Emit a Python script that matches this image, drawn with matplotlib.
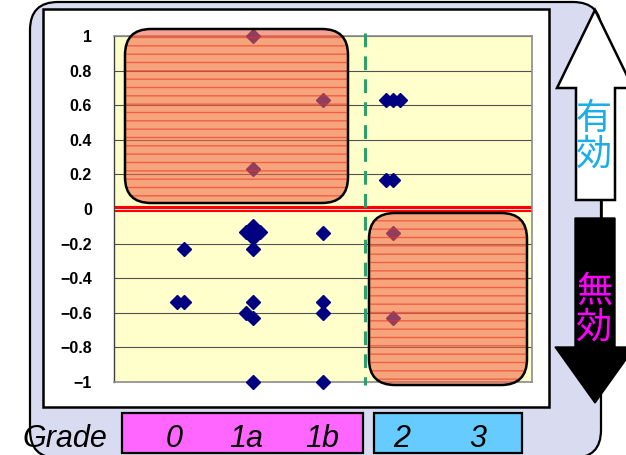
import numpy as np
import matplotlib
matplotlib.use("Agg")
import matplotlib.pyplot as plt
from matplotlib.patches import FancyBboxPatch, Rectangle, Polygon

# grade groups shown under the chart
grade_names = ['0', '1a', '1b', '2', '3']
grade_pos = [1, 2, 3, 4, 5]

# each case: x = grade position (small offsets where cases overlap), y = response score
case_x = [1.0, 0.9, 1.0,
          2.0, 2.0, 1.9, 2.1, 2.0, 2.0, 2.0, 2.0, 2.0, 1.9, 2.0, 2.0,
          3.0, 3.0, 3.0, 3.0, 3.0,
          3.9, 4.0, 4.1, 3.9, 4.0, 4.0, 4.0]
case_y = [-0.23, -0.54, -0.54,
          1.0, 0.23, -0.135, -0.135, -0.10, -0.165, -0.135, -0.23, -0.54, -0.60, -0.63, -1.0,
          0.63, -0.14, -0.54, -0.60, -1.0,
          0.63, 0.63, 0.63, 0.17, 0.17, -0.14, -0.63]

y_ticks = [1, 0.8, 0.6, 0.4, 0.2, 0, -0.2, -0.4, -0.6, -0.8, -1]
cutoff_x = 3.6

W, H = 626, 455
fig = plt.figure(figsize=(W / 100, H / 100), dpi=100)
fig.patch.set_facecolor('white')

# background layer in pixel units: lavender frame, white chart area, grade boxes
back = fig.add_axes([0, 0, 1, 1], zorder=0)
back.set_xlim(0, W)
back.set_ylim(H, 0)
back.axis('off')

back.add_patch(FancyBboxPatch((30, 2), 571, 456, boxstyle='round,pad=0,rounding_size=28',
                              facecolor='#D9DBF1', edgecolor='black', linewidth=1.6))
back.add_patch(Rectangle((43, 9), 506, 398, facecolor='white', edgecolor='black', linewidth=1.8))
back.add_patch(Rectangle((122, 413), 241, 40, facecolor='#FF66FF', edgecolor='black', linewidth=1.6))
back.add_patch(Rectangle((374, 413), 148, 40, facecolor='#66CCFF', edgecolor='black', linewidth=1.6))

back.text(22, 447, 'Grade', fontsize=22, style='italic', family='Liberation Sans',
          ha='left', va='baseline', color='black')
label_px = [174, 246, 322, 402, 478]
for name, px in zip(grade_names, label_px):
    back.text(px, 447, name, fontsize=22, style='italic', family='Liberation Sans',
              ha='center', va='baseline', color='black')

# scatter plot
ax = fig.add_axes([114 / W, (H - 382) / H, 418 / W, 346 / H], zorder=1)
ax.set_facecolor('#FFFFCC')
ax.set_xlim(0, 6)
ax.set_ylim(-1, 1)
for yv in y_ticks:
    if yv != 0:
        ax.axhline(yv, color='#505050', linewidth=0.8, zorder=1)
ax.axhline(0, color='red', linewidth=4.4, zorder=2)
ax.axhline(0, color='white', linewidth=0.6, zorder=2)
ax.plot([cutoff_x, cutoff_x], [1.02, -1.02], color='#2E9E6A', linewidth=2.2,
        dashes=(4.5, 3), clip_on=False, zorder=3)
ax.plot(case_x, case_y, linestyle='none', marker='D', markersize=7.6,
        color='#000080', clip_on=False, zorder=4)

ax.set_xticks([])
ax.set_yticks(y_ticks)
ax.set_yticklabels([f'{v:g}'.replace('-', '\u2212') for v in y_ticks],
                   fontsize=11.5, fontweight='bold', family='Liberation Sans')
ax.tick_params(axis='y', length=0, pad=16)
for side in ['top', 'right', 'bottom']:
    ax.spines[side].set_color('#8C8C8C')
    ax.spines[side].set_linewidth(1.2)
ax.spines['left'].set_color('#404040')
ax.spines['left'].set_linewidth(1.0)

# front layer: shaded regions and the effective / ineffective arrows
front = fig.add_axes([0, 0, 1, 1], zorder=2)
front.set_xlim(0, W)
front.set_ylim(H, 0)
front.axis('off')
front.patch.set_alpha(0)

for (x0, y0, w, h) in [(125, 29, 223, 174), (369, 213, 158, 172)]:
    front.add_patch(FancyBboxPatch((x0, y0), w, h, boxstyle='round,pad=0,rounding_size=26',
                                   facecolor='#F06848', edgecolor='#F03020', hatch='--',
                                   linewidth=0, alpha=0.6))
    front.add_patch(FancyBboxPatch((x0, y0), w, h, boxstyle='round,pad=0,rounding_size=26',
                                   facecolor='none', edgecolor='black', linewidth=1.8))

up_arrow = [(595, 10), (633, 88), (615, 88), (615, 200), (576, 200), (576, 88), (557, 88)]
front.add_patch(Polygon(up_arrow, closed=True, facecolor='white', edgecolor='black',
                        linewidth=1.8, clip_on=False))
front.plot([602, 602], [200, 218], color='black', linewidth=1.2)
down_arrow = [(575, 218), (615, 218), (615, 347), (635, 347), (595, 403), (555, 347), (575, 347)]
front.add_patch(Polygon(down_arrow, closed=True, facecolor='black', edgecolor='black',
                        linewidth=1.0, clip_on=False))

front.text(594, 137, '有\n効', fontsize=26, color='#1AAEE6', ha='center', va='center',
           family=['Noto Sans CJK JP', 'DejaVu Sans'], linespacing=1.0)
front.text(594, 310, '無\n効', fontsize=26, color='#FF00FF', ha='center', va='center',
           family=['Noto Sans CJK JP', 'DejaVu Sans'], linespacing=1.0)

fig.savefig('out.png', dpi=100)
